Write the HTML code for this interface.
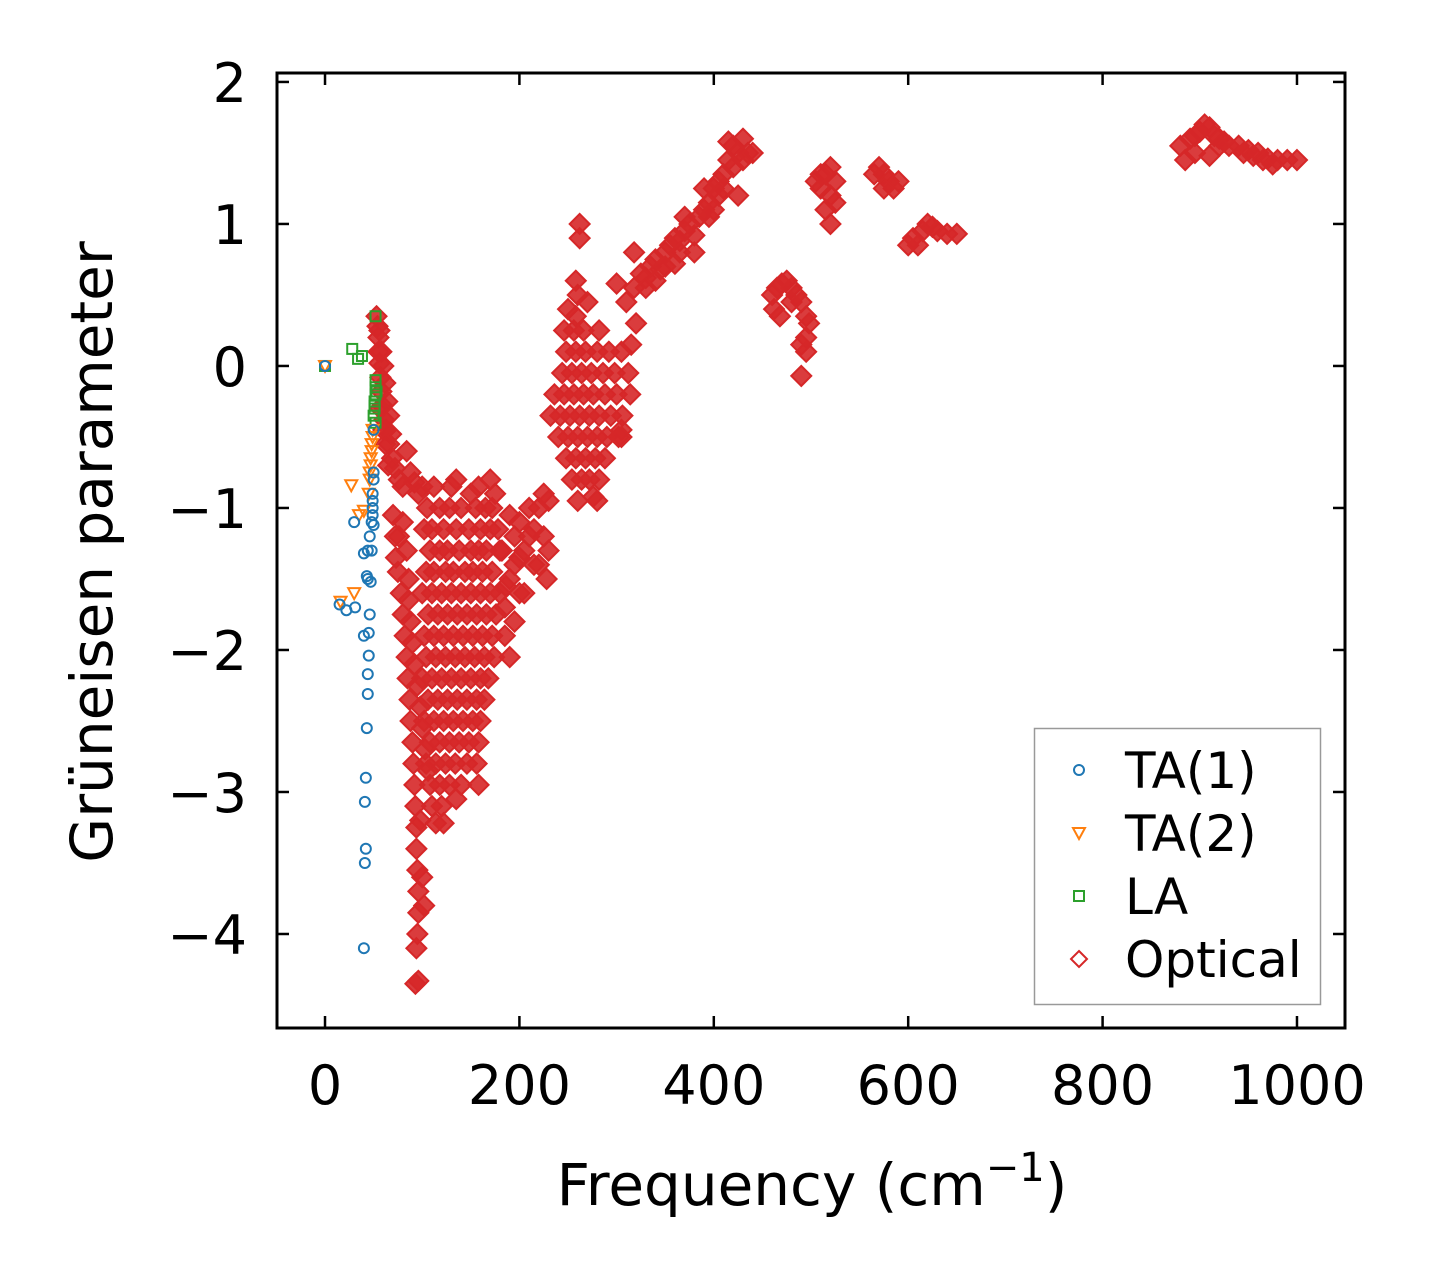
<!DOCTYPE html>
<html><head><meta charset="utf-8"><style>
html,body{margin:0;padding:0;background:#fff;}
svg{display:block;font-family:"DejaVu Sans","Liberation Sans",sans-serif;}
</style></head><body>
<svg id="chart" width="1430" height="1278" viewBox="0 0 1430 1278">
<rect x="0" y="0" width="1430" height="1278" fill="#fff"/>
<g id="marks"></g>
<g id="axes"></g>
</svg>
<script>
const xTicks = [0,200,400,600,800,1000];
const yTicks = [2,1,0,-1,-2,-3,-4];
const yTickLabels = ["2","1","0","\u22121","\u22122","\u22123","\u22124"];
const ta1 = [[0,0],[50,-0.45],[50,-0.75],[50,-0.8],[49,-0.9],[49,-1.0],[49,-1.05],[48,-1.1],[46,-1.2],[44,-1.3],[40,-1.32],[43,-1.48],[44,-1.5],[30,-1.1],[15,-1.68],[22,-1.72],[31,-1.7],[40,-1.9],[45,-1.88],[46,-1.75],[45,-2.04],[44,-2.17],[44,-2.31],[43,-2.55],[42,-2.9],[41,-3.07],[42,-3.4],[41,-3.5],[40,-4.1],[48,-1.3],[47,-1.52],[50,-1.12],[49,-0.95]];
const ta2 = [[0,0],[27,-0.84],[35,-1.05],[40,-1.02],[30,-1.6],[16,-1.66],[45,-0.9],[46,-0.75],[47,-0.65],[48,-0.55],[49,-0.5],[49,-0.45],[48,-0.6],[47,-0.7],[46,-0.8]];
const la = [[0,0],[28,0.12],[34,0.05],[38,0.07],[52,0.35],[52,-0.15],[52,-0.2],[51,-0.25],[51,-0.3],[50,-0.35],[52,-0.4],[53,-0.18],[52,-0.1],[51,-0.28]];
const optical = [
[53,0.35],[54,0.28],[55,0.2],[55,0.1],[56,0.02],[57,-0.08],[58,-0.18],[59,-0.28],[61,-0.38],[63,-0.45],[66,-0.55],[69,-0.65],[72,-0.72],[76,-0.8],[80,-0.85],[84,-0.6],[88,-0.75],[92,-0.82],[96,-0.9],
[56,0.25],[58,0.1],[60,0],[62,-0.12],[64,-0.25],[66,-0.35],[68,-0.48],[57,-0.3],[60,-0.45],[62,-0.55],[65,-0.7],
[70,-1.05],[72,-1.2],[73,-1.35],[75,-1.45],[78,-1.6],[80,-1.75],[82,-1.9],[84,-2.05],[85,-2.2],[87,-2.35],[88,-2.5],[90,-2.65],[91,-2.8],[92,-2.95],[93,-3.1],[94,-3.25],[94,-3.4],[95,-3.55],[96,-3.7],[96,-3.85],[95,-4.0],[94,-4.1],[93,-4.35],[96,-4.33],[100,-3.6],[102,-3.8],[98,-3.2],
[86,-1.65],[88,-1.8],[90,-1.95],[92,-2.1],[95,-2.25],[98,-2.4],[100,-2.55],[103,-2.7],[106,-2.85],[80,-1.1],[84,-1.3],[86,-1.5],[76,-1.2],
[100,-0.85],[112,-0.85],[130,-0.85],[135,-0.8],[150,-0.9],[158,-0.85],[170,-0.8],[175,-0.9],
[105,-1.0],[118,-1.0],[128,-1.0],[140,-1.0],[155,-1.0],[165,-1.0],[172,-1.0],
[102,-1.15],[110,-1.15],[122,-1.15],[135,-1.15],[148,-1.15],[160,-1.15],[170,-1.15],[178,-1.15],
[108,-1.3],[118,-1.3],[126,-1.3],[138,-1.3],[150,-1.3],[158,-1.3],[166,-1.3],[180,-1.3],
[104,-1.45],[112,-1.45],[124,-1.45],[132,-1.45],[144,-1.45],[152,-1.45],[162,-1.45],[172,-1.45],
[100,-1.6],[110,-1.6],[120,-1.6],[130,-1.6],[140,-1.6],[150,-1.6],[160,-1.6],[170,-1.6],[180,-1.6],
[106,-1.75],[116,-1.75],[126,-1.75],[136,-1.75],[146,-1.75],[156,-1.75],[166,-1.75],[176,-1.75],
[102,-1.9],[112,-1.9],[122,-1.9],[132,-1.9],[142,-1.9],[152,-1.9],[162,-1.9],[172,-1.9],
[104,-2.05],[114,-2.05],[124,-2.05],[134,-2.05],[144,-2.05],[154,-2.05],[164,-2.05],[174,-2.05],
[100,-2.2],[110,-2.2],[120,-2.2],[130,-2.2],[140,-2.2],[150,-2.2],[160,-2.2],[168,-2.2],
[106,-2.35],[116,-2.35],[126,-2.35],[136,-2.35],[146,-2.35],[156,-2.35],[164,-2.35],
[102,-2.5],[112,-2.5],[122,-2.5],[132,-2.5],[142,-2.5],[152,-2.5],[160,-2.5],
[108,-2.65],[118,-2.65],[128,-2.65],[138,-2.65],[148,-2.65],[158,-2.65],
[104,-2.8],[114,-2.8],[124,-2.8],[134,-2.8],[146,-2.8],[156,-2.8],
[108,-2.95],[118,-2.95],[128,-2.95],[140,-2.95],[158,-2.95],
[110,-3.1],[120,-3.1],[135,-3.05],[114,-3.22],[122,-3.22],
[190,-2.05],[185,-1.9],[195,-1.8],[200,-1.6],[190,-1.5],[200,-1.35],[210,-1.2],[220,-1.0],[225,-0.9],[230,-0.95],[225,-1.2],[215,-1.4],[205,-1.6],[185,-1.7],[195,-1.2],[210,-1.0],[220,-1.4],[230,-1.3],[228,-1.5],[200,-1.1],[190,-1.05],[182,-1.3],[186,-1.55],[195,-1.4],[205,-1.3],[215,-1.15],
[250,0.4],[258,0.35],
[246,0.25],[256,0.25],[266,0.25],[282,0.25],
[248,0.1],[258,0.1],[268,0.1],[280,0.1],[292,0.1],[305,0.1],
[244,-0.05],[254,-0.05],[264,-0.05],[274,-0.05],[286,-0.05],[298,-0.05],[312,-0.05],
[236,-0.2],[246,-0.2],[256,-0.2],[266,-0.2],[276,-0.2],[288,-0.2],[300,-0.2],[314,-0.2],
[232,-0.35],[242,-0.35],[252,-0.35],[262,-0.35],[272,-0.35],[282,-0.35],[294,-0.35],[306,-0.35],
[240,-0.5],[250,-0.5],[260,-0.5],[270,-0.5],[280,-0.5],[290,-0.5],[302,-0.5],
[248,-0.65],[258,-0.65],[268,-0.65],[278,-0.65],[288,-0.65],
[254,-0.8],[264,-0.8],[272,-0.8],[282,-0.8],[260,-0.95],[276,-0.92],[280,-0.95],
[262,1.0],[262,0.9],[258,0.6],[260,0.5],[270,0.45],[300,0.58],[310,0.45],[318,0.8],[305,-0.45],[305,-0.5],[320,0.3],[315,0.15],
[318,0.55],[325,0.65],[330,0.62],[335,0.7],[340,0.75],[345,0.68],[350,0.8],[355,0.85],[360,0.9],[365,0.88],[370,0.95],[375,1.0],[380,0.92],[385,1.05],[390,1.1],[395,1.15],[400,1.25],[405,1.3],[410,1.35],[415,1.45],[420,1.55],[425,1.5],[430,1.45],[435,1.5],[440,1.5],[420,1.4],[410,1.25],[400,1.1],[380,0.8],[360,0.72],[340,0.6],[330,0.55],[370,1.05],[390,1.25],[425,1.2],[430,1.6],[415,1.58],[350,0.7],[365,0.8],[395,1.05],[405,1.2],
[460,0.5],[465,0.55],[470,0.58],[475,0.6],[480,0.55],[485,0.5],[490,0.45],[495,0.35],[498,0.3],[495,0.2],[490,0.15],[495,0.1],[462,0.4],[468,0.35],[490,-0.07],[480,0.45],
[505,1.3],[510,1.25],[515,1.35],[520,1.4],[525,1.3],[520,1.2],[515,1.1],[520,1.0],[525,1.15],[510,1.35],
[565,1.35],[570,1.4],[575,1.35],[580,1.3],[585,1.25],[590,1.3],[575,1.25],
[600,0.85],[605,0.9],[610,0.85],[615,0.95],[620,1.0],[625,0.98],[630,0.95],[640,0.93],[650,0.93],
[880,1.55],[890,1.6],[895,1.5],[900,1.65],[905,1.7],[910,1.68],[915,1.62],[920,1.6],[925,1.58],[930,1.55],[940,1.55],[945,1.5],[950,1.52],[955,1.48],[960,1.5],[965,1.45],[970,1.46],[975,1.42],[980,1.45],[990,1.45],[1000,1.45],[885,1.45],[895,1.62],[910,1.48],[920,1.55]
];
const NS='http://www.w3.org/2000/svg';
const L=277,R=1345,T=73,B=1028;
const xMin=-49.4,xMax=1049.4,yMin=-4.662,yMax=2.063;
function sx(v){return L+(v-xMin)/(xMax-xMin)*(R-L);}
function sy(v){return B-(v-yMin)/(yMax-yMin)*(B-T);}
function mk(tag,attrs,parent){const e=document.createElementNS(NS,tag);for(const k in attrs)e.setAttribute(k,attrs[k]);parent.appendChild(e);return e;}
const marks=document.getElementById('marks');
const axes=document.getElementById('axes');
function diamond(cx,cy,p){const h=10;return mk('polygon',{points:`${cx},${cy-h} ${cx+h},${cy} ${cx},${cy+h} ${cx-h},${cy}`,fill:'#d62728','fill-opacity':'0.9',stroke:'#d62728','stroke-width':2},p);}
optical.forEach(d=>{const e=diamond(sx(d[0]),sy(d[1]),marks);

});
la.forEach(d=>{const x=sx(d[0]),y=sy(d[1]);const e=mk('rect',{x:x-5,y:y-5,width:10,height:10,fill:'none',stroke:'#2ca02c','stroke-width':2},marks);

});
ta2.forEach(d=>{const x=sx(d[0]),y=sy(d[1]);const e=mk('polygon',{points:`${x-6},${y-5} ${x+6},${y-5} ${x},${y+6}`,fill:'none',stroke:'#ff7f0e','stroke-width':2},marks);

});
ta1.forEach(d=>{const e=mk('circle',{cx:sx(d[0]),cy:sy(d[1]),r:5,fill:'none',stroke:'#1f77b4','stroke-width':2},marks);

});
const frame=mk('rect',{x:L,y:T,width:R-L,height:B-T,fill:'none',stroke:'#000','stroke-width':3},axes);


xTicks.forEach(v=>{const x=sx(v);
mk('line',{x1:x,y1:B,x2:x,y2:B-12,stroke:'#000','stroke-width':2.5},axes);
mk('line',{x1:x,y1:T,x2:x,y2:T+12,stroke:'#000','stroke-width':2.5},axes);
const t=mk('text',{x:x,y:B+76,'font-size':54,'text-anchor':'middle',fill:'#000'},axes);t.textContent=String(v);

});
yTicks.forEach((v,i)=>{const y=sy(v);
mk('line',{x1:L,y1:y,x2:L+12,y2:y,stroke:'#000','stroke-width':2.5},axes);
mk('line',{x1:R,y1:y,x2:R-12,y2:y,stroke:'#000','stroke-width':2.5},axes);
const t=mk('text',{x:L-30,y:y+20,'font-size':54,'text-anchor':'end',fill:'#000'},axes);t.textContent=yTickLabels[i];

});
</script>
<svg style="position:absolute;left:0;top:0" width="1430" height="1278">
<text x="812" y="1205" font-size="58" text-anchor="middle" font-family="DejaVu Sans, Liberation Sans, sans-serif">Frequency (cm<tspan dy="-24" font-size="40">−1</tspan><tspan dy="24">)</tspan></text>
<text transform="translate(112,552) rotate(-90)" font-size="58" text-anchor="middle" font-family="DejaVu Sans, Liberation Sans, sans-serif">Grüneisen parameter</text>
<g font-family="DejaVu Sans, Liberation Sans, sans-serif" font-size="50">
<rect x="1034.5" y="728.5" width="286" height="276" fill="#fff" fill-opacity="0.8" stroke="#999" stroke-width="1.5"/>
<circle cx="1079" cy="770" r="5" fill="none" stroke="#1f77b4" stroke-width="2"/>
<text x="1125" y="788">TA(1)</text>
<polygon points="1073,828 1085,828 1079,839" fill="none" stroke="#ff7f0e" stroke-width="2"/>
<text x="1125" y="851">TA(2)</text>
<rect x="1074" y="891" width="10" height="10" fill="none" stroke="#2ca02c" stroke-width="2"/>
<text x="1125" y="914">LA</text>
<polygon points="1079,951 1087,959 1079,967 1071,959" fill="none" stroke="#d62728" stroke-width="2"/>
<text x="1125" y="977">Optical</text>
</g>
</svg>
</body></html>
